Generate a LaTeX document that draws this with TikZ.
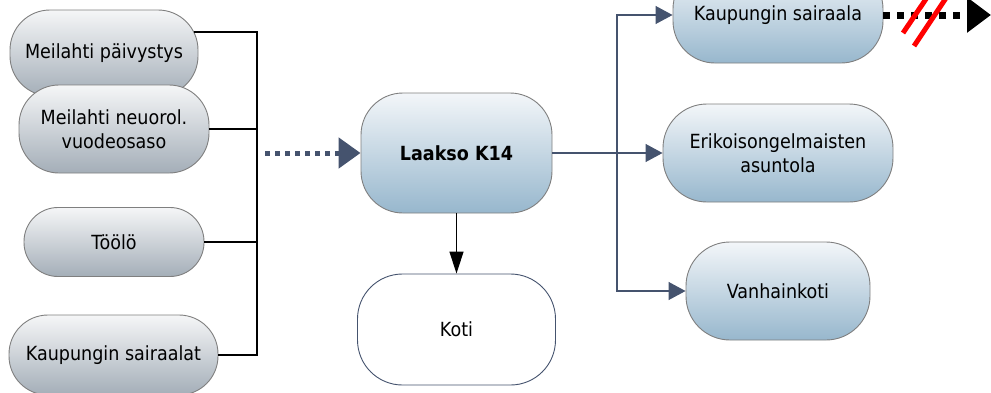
\documentclass[tikz,border=0pt]{standalone}
\usepackage{fontspec}
\setmainfont{DejaVu Sans Condensed}
\usetikzlibrary{arrows.meta,calc}
\definecolor{slate}{HTML}{45536E}
\definecolor{bordgray}{HTML}{7F7F7F}
\definecolor{gtop}{HTML}{F5F6F7}
\definecolor{gbot}{HTML}{A4AEB8}
\definecolor{btop}{HTML}{F3F6F9}
\definecolor{bbot}{HTML}{97B7CD}
\tikzset{
  box/.style={draw=bordgray, line width=0.9pt, rounded corners=38pt, align=center,
    font=\fontsize{19.5}{24}\selectfont, inner sep=0pt},
  graybox/.style={box, top color=gtop, bottom color=gbot},
  bluebox/.style={box, top color=btop, bottom color=bbot},
  whitebox/.style={box, draw=slate, fill=white},
  bk/.style={black, line width=1.2pt},
  sl/.style={slate, line width=1.2pt},
  tipS/.style={-{Triangle[length=17pt,width=18pt]}},
  dotarrow/.style={slate, line width=5pt, dash pattern=on 5pt off 5pt, -{Triangle[length=22pt,width=30pt]}},
  blkdot/.style={black, line width=7pt, dash pattern=on 7pt off 7pt, -{Triangle[length=24pt,width=34pt]}},
  redslash/.style={red, line width=5pt}
}
\begin{document}
\begin{tikzpicture}[x=1pt,y=-1pt]
\useasboundingbox (0,0) rectangle (991,392);
\clip (0,0) rectangle (991,392);
% left boxes
\node[graybox, minimum width=188pt, minimum height=86pt, rounded corners=40pt] (m1) at (104,53) {Meilahti päivystys};
\node[graybox, minimum width=190pt, minimum height=88pt, rounded corners=40pt] (m2) at (114,129) {Meilahti neuorol.\\vuodeosaso};
\node[graybox, minimum width=180pt, minimum height=69pt, rounded corners=34pt] (t) at (114,242) {Töölö};
\node[graybox, minimum width=209pt, minimum height=80pt, rounded corners=39pt] (ks) at (113.5,355) {Kaupungin sairaalat};
% center
\node[bluebox, minimum width=191pt, minimum height=120pt, rounded corners=42pt] (L) at (456.5,153) {\bfseries Laakso K14};
\node[whitebox, minimum width=198pt, minimum height=111pt, rounded corners=45pt] (K) at (456.5,329.5) {Koti};
% right
\node[bluebox, minimum width=210pt, minimum height=96pt, rounded corners=42pt] (R1) at (778,15) {Kaupungin sairaala};
\node[bluebox, minimum width=230pt, minimum height=98pt, rounded corners=44pt] (R2) at (778,153) {Erikoisongelmaisten\\asuntola};
\node[bluebox, minimum width=184pt, minimum height=98pt, rounded corners=44pt] (R3) at (778,291) {Vanhainkoti};
% left bus
\coordinate (b1) at (257,32);
\coordinate (b4) at (257,355);
\draw[bk] ($(m1.east)+(-4,-21)$) -- (b1) -- (b4) -- (ks.east);
\draw[bk] (m2.east) -- (m2.east -| b1);
\draw[bk] (t.east) -- (t.east -| b1);
% dotted arrow into Laakso
\coordinate (d0) at (265,153);
\draw[dotarrow] (d0) -- (L.west);
% down arrow
\draw[bk, -{Triangle[length=22pt,width=14pt]}] (L.south) -- (K.north);
% right distribution
\coordinate (rb) at (617,153);
\draw[sl, tipS] (L.east) -- (R2.west);
\draw[sl, tipS] (rb) |- (R1.west);
\draw[sl, tipS] (rb) |- (R3.west);
% blocked dotted arrow
\coordinate (out) at (991,15);
\draw[blkdot] (R1.east) -- (out);
\draw[redslash] (903,33) -- (928,-4);
\draw[redslash] (914,46) -- (946,-2);
\end{tikzpicture}
\end{document}
